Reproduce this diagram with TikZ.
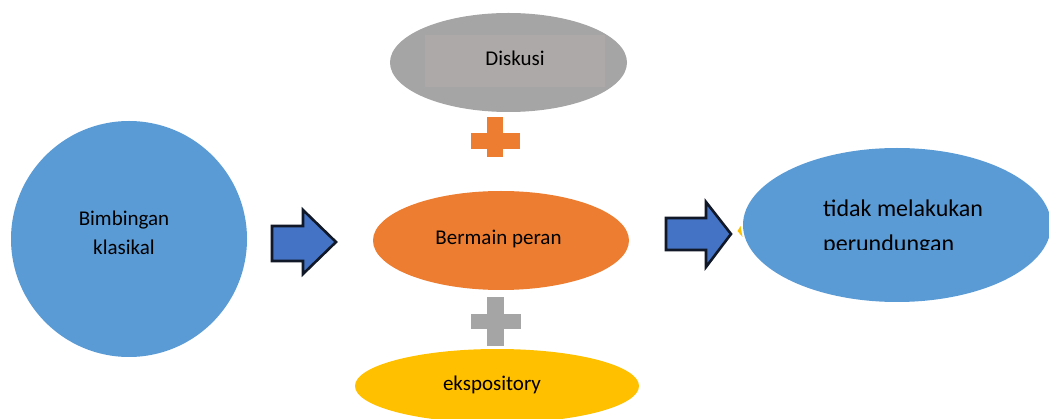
\documentclass[tikz,border=0pt]{standalone}
\usepackage{fontspec}
\setmainfont{Carlito}
\usetikzlibrary{shapes.geometric}
\definecolor{cblue}{HTML}{5B9BD5}
\definecolor{corange}{HTML}{ED7D31}
\definecolor{cgrey}{HTML}{A5A5A5}
\definecolor{cgreyrect}{HTML}{ADA9A8}
\definecolor{cyellow}{HTML}{FFC000}
\definecolor{carrow}{HTML}{4472C4}
\definecolor{cline}{HTML}{111827}
\tikzset{
  blob/.style={ellipse, inner sep=0pt, draw=none},
  lbl/.style={anchor=base, inner sep=0pt, font=\fontsize{21}{25}\selectfont, text=black},
  biglbl/.style={anchor=base west, inner sep=0pt, font=\fontsize{24}{29}\selectfont, text=black},
  blockarrow/.style={fill=carrow, draw=cline, line width=2.6pt, line join=miter}
}
\begin{document}
\begin{tikzpicture}[x=1pt,y=-1pt]
\useasboundingbox (0,0) rectangle (1049,419);
% left circle
\node[blob, fill=cblue, minimum width=236pt, minimum height=236pt] (bk) at (129,239) {};
\node[lbl] (bk1) at (124,226) {Bimbingan};
\node[lbl] (bk2) at (124,255) {klasikal};
% arrow 1
\filldraw[blockarrow] (272,226) -- (303,226) -- (303,210) -- (336,242) -- (303,274) -- (303,261) -- (272,261) -- cycle;
% Diskusi ellipse
\node[blob, fill=cgrey, minimum width=237pt, minimum height=99pt] (dk) at (508.5,62.5) {};
\node[fill=cgreyrect, inner sep=0pt, minimum width=180pt, minimum height=52pt] (dkr) at (515,61) {};
\node[lbl] (dkt) at (515,66) {Diskusi};
% orange plus
\fill[corange] (487,117) rectangle (503,157);
\fill[corange] (471,133) rectangle (520,149);
% Bermain peran
\node[blob, fill=corange, minimum width=256pt, minimum height=99pt] (bp) at (501,240.5) {};
\node[lbl] (bpt) at (498.5,245) {Bermain peran};
% grey plus
\fill[cgrey] (487,297) rectangle (504,346);
\fill[cgrey] (471,314) rectangle (521,329);
% ekspository
\node[blob, fill=cyellow, minimum width=284pt, minimum height=74pt] (ek) at (497,386) {};
\node[lbl] (ekt) at (492,390) {ekspository};
% arrow 2
\filldraw[blockarrow] (666,218) -- (706,218) -- (706,202) -- (731,234) -- (706,267) -- (706,250) -- (666,250) -- cycle;
% small yellow sliver
\fill[cyellow] (737.5,231) -- (740.5,226) -- (742.5,237) -- cycle;
% right ellipse
\node[blob, fill=cblue, minimum width=308pt, minimum height=154pt] (tm) at (897,225) {};
\node[biglbl] (tm1) at (823,217) {tidak melakukan};
\begin{scope}
\clip (800,225) rectangle (1000,250);
\node[biglbl] (tm2) at (823,252) {perundungan};
\end{scope}
\end{tikzpicture}
\end{document}
